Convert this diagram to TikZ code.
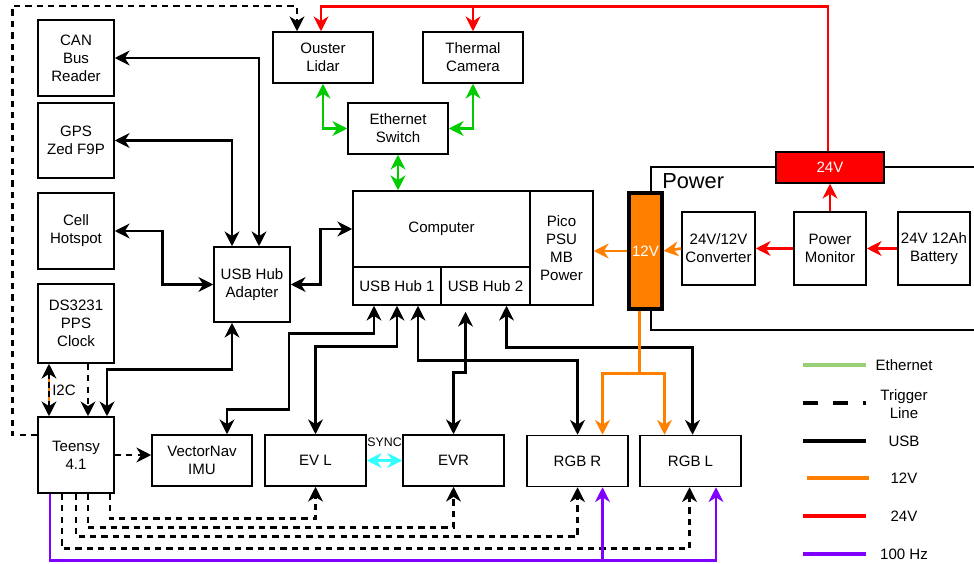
\documentclass[tikz,border=0pt]{standalone}
\usepackage{fontspec}
\setmainfont{Liberation Sans}
\usetikzlibrary{arrows.meta,calc,positioning}
\definecolor{ethgreen}{HTML}{00CC00}
\definecolor{leggreen}{HTML}{97D077}
\definecolor{pworange}{HTML}{FF8000}
\definecolor{pwred}{HTML}{FF0000}
\definecolor{hzpurple}{HTML}{7F00FF}
\definecolor{synccyan}{HTML}{33FFFF}

\begin{document}
\begin{tikzpicture}[x=0.025cm, y=-0.025cm,
  >={Stealth[length=10.5pt,width=10.5pt,inset=3.3pt]},
  box/.style 2 args={draw, line width=1.05pt, align=center, inner sep=1pt,
    minimum width=#1, minimum height=#2, font=\fontsize{10.7}{12.8}\selectfont},
  usb/.style={line width=1.9pt, line join=miter},
  trig/.style={line width=1.9pt, dash pattern=on 4.5pt off 3.6pt},
  eth/.style={line width=1.9pt, color=ethgreen},
  pw12/.style={line width=1.9pt, color=pworange},
  pw24/.style={line width=1.9pt, color=pwred},
  hz/.style={line width=1.9pt, color=hzpurple},
  legline/.style={line width=2.9pt},
  leglabel/.style={align=center, font=\fontsize{10.7}{12.8}\selectfont}]
\useasboundingbox (0,0) rectangle (974,564);

% power frame
\draw[line width=1.05pt] (974,167) -- (651,167) -- (651,330) -- (974,330);
\node[anchor=west, inner sep=0pt, font=\fontsize{15.5}{18}\selectfont] (powerlbl) at (662,181) {Power};

% left column
\node[box={1.9cm}{1.9cm}] (can) at (76,58) {CAN\\Bus\\Reader};
\node[box={1.9cm}{1.875cm}] (gps) at (76,140.5) {GPS\\Zed F9P};
\node[box={1.9cm}{1.9cm}] (cell) at (76,231) {Cell\\Hotspot};
\node[box={1.9cm}{1.975cm}] (rtc) at (76,323.5) {DS3231\\PPS\\Clock};
\node[box={1.9cm}{1.9cm}] (teensy) at (76,455) {Teensy\\4.1};
\node[box={1.9cm}{1.875cm}] (hubad) at (252,284.5) {USB Hub\\Adapter};

% sensors
\node[box={2.5cm}{1.275cm}] (lidar) at (323,57.5) {Ouster\\Lidar};
\node[box={2.5cm}{1.275cm}] (thermal) at (473,57.5) {Thermal\\Camera};
\node[box={2.5cm}{1.275cm}] (switch) at (398,128.5) {Ethernet\\Switch};
\node[box={2.5cm}{1.275cm}] (imu) at (202,460.5) {VectorNav\\IMU};
\node[box={2.525cm}{1.275cm}] (evl) at (315.5,460.5) {EV L};
\node[box={2.525cm}{1.275cm}] (evr) at (453.5,460.5) {EVR};
\node[box={2.525cm}{1.275cm}] (rgbr) at (577.5,461) {RGB R};
\node[box={2.525cm}{1.275cm}] (rgbl) at (690.5,461) {RGB L};

% computer
\node[box={4.425cm}{1.9cm}] (comp) at (441.5,229) {Computer};
\node[box={2.2cm}{0.95cm}] (hub1) at (397,286) {USB Hub 1};
\node[box={2.225cm}{0.95cm}] (hub2) at (485.5,286) {USB Hub 2};
\node[box={1.575cm}{2.85cm}] (pico) at (561.5,248) {Pico\\PSU\\MB\\Power};

% power
\node[box={0.825cm}{2.9cm}, fill=pworange, line width=2.2pt, text=white] (bar12) at (645.5,251) {12V};
\node[box={2.7cm}{0.775cm}, fill=pwred, text=white] (v24) at (830,167.5) {24V};
\node[box={1.825cm}{1.825cm}] (conv) at (718.5,248.5) {24V/12V\\Converter};
\node[box={1.8cm}{1.825cm}] (monitor) at (830,248.5) {Power\\Monitor};
\node[box={1.8cm}{1.825cm}] (batt) at (934,248.5) {24V 12Ah\\Battery};

% usb
\draw[usb,<->] (can.east) -| ($(hubad.north)+(7,0)$);
\draw[usb,<->] (gps.east) -| ($(hubad.north)+(-20,0)$);
\draw[usb,<->] (cell.east) -| ($(hubad.west)+(-51,0)$) -- (hubad.west);
\draw[usb,<->] (hubad.east) -| ($(comp.west)+(-32,0)$) -- (comp.west);
\draw[usb,<->] ($(hubad.south)+(-20,0)$) -- ++(0,47) -| ($(teensy.north)+(31,0)$);
\draw[usb,<->] ($(imu.north)+(25,0)$) -- ++(0,-25) -| ++(62,-76) -| ($(hub1.south)+(-23,0)$);
\draw[usb,<->] (evl.north) -- ++(0,-88) -| (hub1.south);
\draw[usb,<->] ($(hub1.south)+(21,0)$) -- ++(0,55) -| (rgbr.north);
\draw[usb,<->] ($(hub2.south)+(-20,6)$) -- ++(0,61) -| (evr.north);
\draw[usb,<->] ($(hub2.south)+(21,0)$) -- ++(0,42) -| ($(rgbl.north)+(2,0)$);

% ethernet
\draw[eth,<->] (lidar.south) |- (switch.west);
\draw[eth,<->] (thermal.south) |- (switch.east);
\draw[eth,<->] (switch.south) -- (switch.south |- comp.north);

% 24V
\draw[pw24,->] (batt.west) -- (monitor.east);
\draw[pw24,->] (monitor.west) -- (conv.east);
\draw[pw24,->] (monitor.north) -- (v24.south);
\coordinate (redtop) at ($(v24.north)+(-2,-145)$);
\draw[pw24,->] ($(v24.north)+(-2,0)$) -- (redtop) -| ($(lidar.north)+(-2,0)$);
\draw[pw24,->] (redtop -| thermal.north) -- (thermal.north);

% 12V
\draw[pw12,->] (conv.west) -- (bar12.east);
\draw[pw12,->] (bar12.west) -- (bar12.west -| pico.east);
\coordinate (split12) at ($(bar12.south)+(-6,63)$);
\draw[pw12] ($(bar12.south)+(-6,0)$) -- (split12);
\draw[pw12,->] (split12) -| ($(rgbr.north)+(25,0)$);
\draw[pw12,->] (split12) -| ($(rgbl.north)+(-26,0)$);

% trigger lines
\draw[trig,->] ($(teensy.west)+(0,-20)$) -| ++(-25,-429) -| ($(lidar.north)+(-26,0)$);
\draw[trig,->] ($(rtc.south)+(12,0)$) -- ($(teensy.north)+(12,0)$);
\draw[trig,->] (teensy.east) -- (teensy.east -| imu.west);
\draw[trig,->] ($(teensy.south)+(34,0)$) -- ++(0,25) -| (evl.south);
\draw[trig,->] ($(teensy.south)+(12,0)$) -- ++(0,34) -| (evr.south);
\draw[trig,->] ($(teensy.south)+(0,0)$) -- ++(0,43) -| (rgbr.south);
\draw[trig,->] ($(teensy.south)+(-14,0)$) -- ++(0,55) -| ($(rgbl.south)+(-1,0)$);

% I2C
\draw[usb,<->] ($(rtc.south)+(-27,0)$) -- ($(teensy.north)+(-27,0)$);
\draw[pw12, line width=1.6pt, dash pattern=on 2.5pt off 4pt] ($(rtc.south)+(-27,15)$) -- ($(teensy.north)+(-27,-15)$);
\node[font=\fontsize{10.7}{12.8}\selectfont] (i2c) at (64,390) {I2C};

% 100 Hz
\coordinate (hzbase) at ($(teensy.south)+(-26,67)$);
\draw[hz,->] ($(teensy.south)+(-26,0)$) -- (hzbase) -| ($(rgbl.south)+(25.5,0)$);
\draw[hz,->] ($(hzbase -| rgbr.south)+(25,0)$) -- ($(rgbr.south)+(25,0)$);

% sync
\draw[line width=1.9pt, color=synccyan, <->] (evl.east) -- (evr.west);
\node[font=\fontsize{8.8}{10}\selectfont] (synclbl) at (384.5,442) {SYNC};

% legend
\draw[legline, leggreen] (803,365) -- (866,365);
\node[leglabel] (legeth) at (904,365) {Ethernet};
\draw[legline, dash pattern=on 10.7pt off 10.7pt] (803,403) -- (866,403);
\node[leglabel] (legtrig) at (904,404) {Trigger\\Line};
\draw[legline] (803,441) -- (866,441);
\node[leglabel] (legusb) at (904,441) {USB};
\draw[legline, pworange] (807,478) -- (869,478);
\node[leglabel] (leg12) at (904,478) {12V};
\draw[legline, pwred] (803,516) -- (866,516);
\node[leglabel] (leg24) at (904,516) {24V};
\draw[legline, hzpurple] (803,554) -- (866,554);
\node[leglabel] (leghz) at (904,554) {100 Hz};
\end{tikzpicture}
\end{document}
